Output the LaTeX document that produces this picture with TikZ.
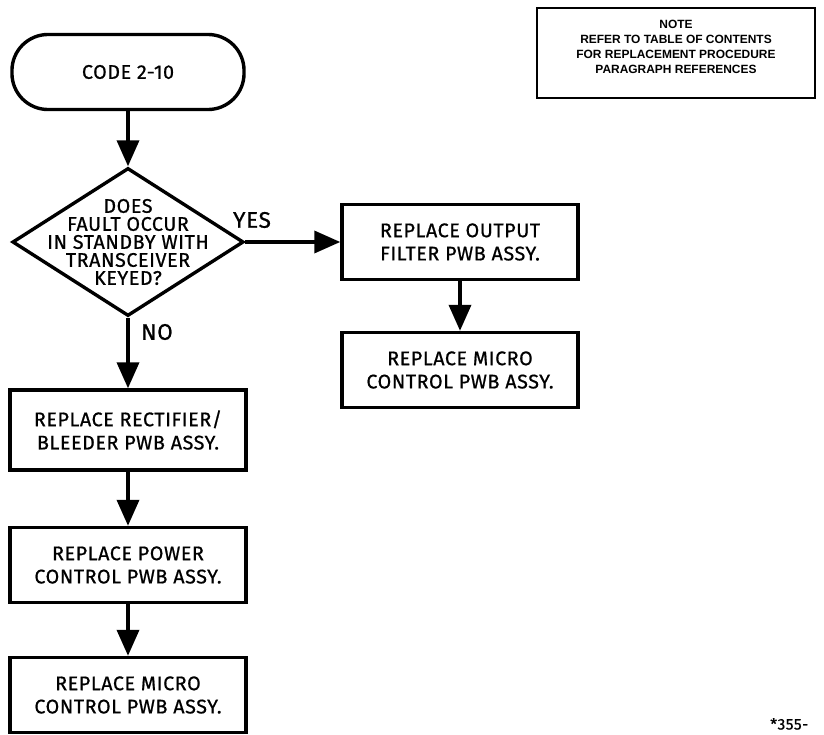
\documentclass[tikz,border=0pt]{standalone}
\usepackage{fontspec}
\setmainfont{Fira Sans}[UprightFeatures={FakeBold=0.8},LetterSpace=3]
\newfontfamily\notefont{Liberation Sans}
\usetikzlibrary{arrows.meta,shapes.geometric}
\tikzset{box/.style={draw=black,line width=2.4pt,align=center,minimum width=5.9cm,minimum height=1.875cm,inner sep=4pt,font=\fontsize{14}{16.5}\selectfont},term/.style={box,rounded corners=9mm,minimum width=5.8cm},decision/.style={diamond,draw=black,line width=2.4pt,minimum width=5.78cm,minimum height=3.7cm,inner sep=0pt},qtext/.style={align=center,inner sep=0pt,font=\fontsize{14}{12.8}\selectfont},arrow/.style={-{Triangle[length=6.5mm,width=5.5mm]},line width=2.6pt},lab/.style={inner sep=1pt,font=\fontsize{16}{16}\selectfont},note/.style={draw=black,line width=1.4pt,align=center,minimum width=6.95cm,minimum height=2.25cm,text depth=9pt,font=\notefont\bfseries\fontsize{8.5}{10.7}\selectfont}}
\begin{document}
\begin{tikzpicture}[x=0.025cm,y=-0.025cm]
\useasboundingbox (0,0) rectangle (824,735);
\node[term] (start) at (128,72) {CODE 2-10};
\node[decision] (ask) at (128,242) {};
\node[qtext] (asktxt) at (ask.center) {DOES\\FAULT OCCUR\\IN STANDBY WITH\\TRANSCEIVER\\KEYED?};
\node[box] (filt) at (460,242) {REPLACE OUTPUT\\FILTER PWB ASSY.};
\node[box] (mic1) at (460,370) {REPLACE MICRO\\CONTROL PWB ASSY.};
\node[box,minimum height=2cm] (rect) at (128,430) {REPLACE RECTIFIER/\\BLEEDER PWB ASSY.};
\node[box] (pow) at (128,565) {REPLACE POWER\\CONTROL PWB ASSY.};
\node[box] (mic2) at (128,695) {REPLACE MICRO\\CONTROL PWB ASSY.};
\node[lab] (yes) at (252,220) {YES};
\node[lab] (no) at (157,332) {NO};
\node[note] (note) at (676,53) {NOTE\\REFER TO TABLE OF CONTENTS\\FOR REPLACEMENT PROCEDURE\\PARAGRAPH REFERENCES};
\node[anchor=south west,inner sep=0pt,font=\fontsize{11}{11}\selectfont] (fig) at (770,730) {*355-};
\draw[arrow](start)--(ask);\draw[arrow](ask)--(filt);\draw[arrow](filt)--(mic1);
\draw[arrow](ask)--(rect);\draw[arrow](rect)--(pow);\draw[arrow](pow)--(mic2);
\end{tikzpicture}
\end{document}
